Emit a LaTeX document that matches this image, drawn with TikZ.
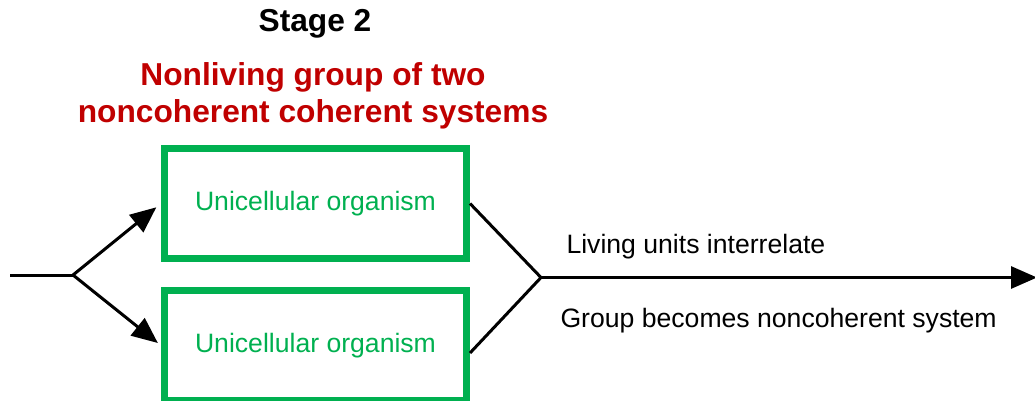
\documentclass[tikz,border=0pt]{standalone}
\usepackage{fontspec}
\setmainfont{Liberation Sans}
\usetikzlibrary{arrows.meta}
\definecolor{cellgreen}{RGB}{0,176,80}
\definecolor{titlered}{RGB}{192,0,0}

\begin{document}
\begin{tikzpicture}[x=1pt,y=-1pt,
  cellbox/.style={draw=cellgreen, line width=7pt, minimum width=302pt, minimum height=110pt,
    text=cellgreen, font=\fontsize{26.6}{31}\selectfont},
  flow/.style={line width=3pt},
  flowarrow/.style={line width=3pt, -{Triangle[length=26pt,width=22pt]}},
  note/.style={font=\fontsize{26.6}{31}\selectfont, anchor=base west}]
\useasboundingbox (0,0) rectangle (1035,400);
\node [font=\fontsize{31.7}{37}\selectfont\bfseries] (stage) at (315,24) {Stage 2};
\node [font=\fontsize{31.7}{37}\selectfont\bfseries, text=titlered, align=center] (title) at (313,96)
  {Nonliving group of two\\noncoherent coherent systems};
\node [cellbox] (upper) at (315.5,203.5) {Unicellular organism};
\node [cellbox] (lower) at (315.5,345.5) {Unicellular organism};
\coordinate (start) at (10,275);
\coordinate (split) at (73,275);
\coordinate (join) at (541,277.5);
\coordinate (finish) at (1037,277.5);
%\draw[red] (split) -- (join);
\draw [flow] (start) -- (split);
\draw [flowarrow, shorten >=6pt] (split) -- (upper.west);
\draw [flowarrow, shorten >=4pt] (split) -- (lower.west);
\draw [flow] (upper.east) -- (join);
\draw [flow] ([yshift=-7.5pt]lower.east) -- (join);
\draw [flowarrow] (join) -- (finish);
\node [note] (interrelate) at (563,253) {Living units interrelate};
\node [note] (becomes) at (557,327) {Group becomes noncoherent system};
\end{tikzpicture}
\end{document}
